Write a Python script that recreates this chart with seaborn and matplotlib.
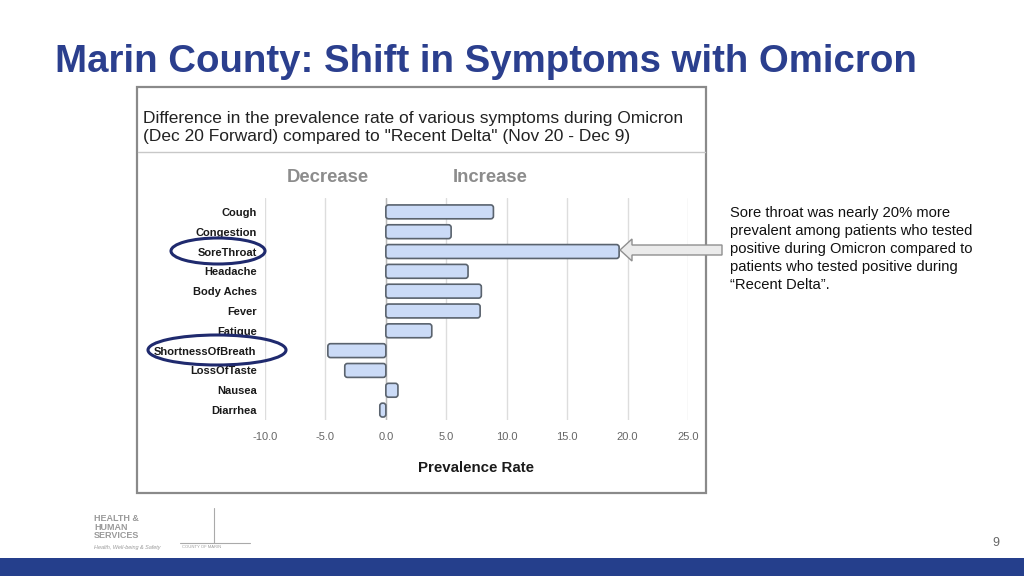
import matplotlib
matplotlib.use("Agg")
import matplotlib.pyplot as plt
from matplotlib.patches import Rectangle, Ellipse, FancyArrow, FancyBboxPatch
import seaborn as sns
import pandas as pd

symptoms = ["Cough", "Congestion", "SoreThroat", "Headache", "Body Aches", "Fever",
            "Fatigue", "ShortnessOfBreath", "LossOfTaste", "Nausea", "Diarrhea"]
change = [8.9, 5.4, 19.3, 6.8, 7.9, 7.8, 3.8, -4.8, -3.4, 1.0, -0.5]
xticks = [-10, -5, 0, 5, 10, 15, 20, 25]

df = pd.DataFrame({"symptom": symptoms, "change": change})

sns.set_theme(style="white")
plt.rcParams["font.family"] = ["Liberation Sans", "DejaVu Sans"]

W, H = 1024, 576
fig = plt.figure(figsize=(10.24, 5.76), dpi=100)


def fx(px):
    return px / W


def fy(py):
    return 1 - py / H


# slide title
fig.text(fx(55), fy(62), "Marin County: Shift in Symptoms with Omicron",
         fontsize=27.6, fontweight="bold", color="#2b3f8e", va="center", ha="left")

# chart box with header
fig.patches.append(Rectangle((fx(137), fy(493)), fx(706 - 137), (493 - 87) / H,
                             transform=fig.transFigure, fill=False,
                             edgecolor="#8a8a8a", linewidth=1.6, zorder=0))
fig.lines.append(plt.Line2D([fx(138), fx(705)], [fy(152), fy(152)],
                            transform=fig.transFigure, color="#c8c8c8", lw=1))
fig.text(fx(143), fy(118), "Difference in the prevalence rate of various symptoms during Omicron",
         fontsize=12.5, color="#222222", va="center")
fig.text(fx(143), fy(137), '(Dec 20 Forward) compared to "Recent Delta" (Nov 20 - Dec 9)',
         fontsize=12.5, color="#222222", va="center")
fig.text(fx(328), fy(178), "Decrease", fontsize=13.3, fontweight="bold",
         color="#8c8c8c", ha="center", va="center")
fig.text(fx(490), fy(178), "Increase", fontsize=13.3, fontweight="bold",
         color="#8c8c8c", ha="center", va="center")

# bar chart
ax = fig.add_axes([fx(265), fy(420), fx(688 - 265), (420 - 198) / H])
sns.barplot(data=df, x="change", y="symptom", orient="h", ax=ax,
            color="#cbdbf7", edgecolor="#5a636e", linewidth=1.2, width=0.7,
            saturation=1)
ax.set_xlim(-10, 25)
ax.set_ylim(10.5, -0.7)

# round the bar corners like the original chart
aspect = (11.2 / 222) / (35 / 423)
for p in list(ax.patches):
    x0, y0, w, h = p.get_x(), p.get_y(), p.get_width(), p.get_height()
    rb = FancyBboxPatch((min(x0, x0 + w), y0), abs(w), h,
                        boxstyle="round,pad=0,rounding_size=0.22",
                        mutation_aspect=aspect,
                        facecolor=p.get_facecolor(), edgecolor="#5a636e",
                        linewidth=1.2, zorder=3)
    p.remove()
    ax.add_patch(rb)

ax.set_xticks(xticks)
ax.set_xticklabels([f"{v:.1f}" for v in xticks], fontsize=8, color="#666666")
ax.tick_params(axis="x", length=0, pad=9)
ax.tick_params(axis="y", length=0, pad=6)
for lab in ax.get_yticklabels():
    lab.set_fontsize(8)
    lab.set_fontweight("bold")
    lab.set_color("#1a1a1a")
for v in xticks:
    ax.axvline(v, color="#dddddd", lw=1, zorder=0)
ax.axvline(0, color="#bbbbbb", lw=1, zorder=0)
for s in ax.spines.values():
    s.set_visible(False)
ax.set_ylabel("")
ax.set_xlabel("Prevalence Rate", fontsize=10.8, fontweight="bold", color="#1a1a1a", labelpad=13)
ax.patch.set_alpha(0)

# highlight ellipses
fig.patches.append(Ellipse((fx(218), fy(251)), fx(94), 26 / H, transform=fig.transFigure,
                           fill=False, edgecolor="#1f2a6e", lw=2.2))
fig.patches.append(Ellipse((fx(217), fy(350)), fx(138), 30 / H, transform=fig.transFigure,
                           fill=False, edgecolor="#1f2a6e", lw=2.2))

# arrow pointing at sore throat bar
fig.patches.append(FancyArrow(fx(722), fy(250), fx(620 - 722), 0, width=10 / H,
                              head_width=22 / H, head_length=fx(12),
                              length_includes_head=True, transform=fig.transFigure,
                              facecolor="#ebebeb", edgecolor="#8f8f8f", lw=1))

note = ["Sore throat was nearly 20% more",
        "prevalent among patients who tested",
        "positive during Omicron compared to",
        "patients who tested positive during",
        "\u201cRecent Delta\u201d."]
for i, line in enumerate(note):
    fig.text(fx(730), fy(213 + i * 18), line, fontsize=10.65, color="#111111", va="center")

# footer logos (text stand-ins)
fig.text(fx(94), fy(527), "HEALTH &\nHUMAN\nSERVICES", fontsize=6.5, color="#9a9a9a",
         fontweight="bold", va="center", linespacing=0.9)
fig.text(fx(94), fy(548), "Health, Well-being & Safety", fontsize=4, color="#9a9a9a",
         style="italic", va="center")
fig.text(fx(182), fy(547), "COUNTY OF MARIN", fontsize=3, color="#9a9a9a", va="center")
fig.lines.append(plt.Line2D([fx(180), fx(250)], [fy(543), fy(543)],
                            transform=fig.transFigure, color="#aaaaaa", lw=0.8))
fig.lines.append(plt.Line2D([fx(214), fx(214)], [fy(543), fy(508)],
                            transform=fig.transFigure, color="#aaaaaa", lw=0.8))

fig.text(fx(996), fy(543), "9", fontsize=9, color="#666666", ha="center", va="center")
fig.patches.append(Rectangle((0, 0), 1, 18 / H, transform=fig.transFigure,
                             facecolor="#253f8c", edgecolor="none"))

fig.savefig("out.png", dpi=100)
